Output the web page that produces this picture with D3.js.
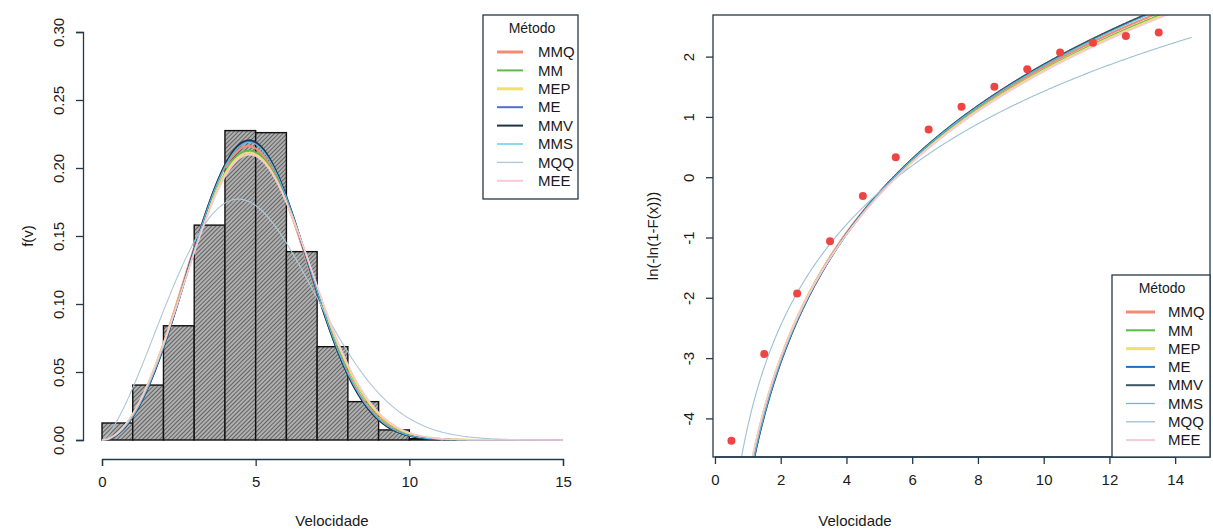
<!DOCTYPE html>
<html><head><meta charset="utf-8">
<script src="https://cdn.jsdelivr.net/npm/d3@7"></script>
<style>
html,body{margin:0;padding:0;background:#fff;}
svg{display:block;font-family:"Liberation Sans",Arial,Helvetica,sans-serif;}
</style></head>
<body>
<svg id="chart" width="1213" height="531"></svg>
<script>
// ---------- data ----------
const binStart = [0,1,2,3,4,5,6,7,8,9,10];
const binEnd   = [1,2,3,4,5,6,7,8,9,10,11];
const density  = [0.0125,0.0404,0.084,0.158,0.2275,0.226,0.1385,0.0686,0.0282,0.0074,0.001];

const methods = ["MMQ","MM","MEP","ME","MMV","MMS","MQQ","MEE"];
// fitted Weibull parameters per method (shape k, scale c)
const shapeK = [3.00, 2.98, 2.96, 3.06, 3.07, 3.05, 2.41, 2.95];
const scaleC = [5.44, 5.49, 5.50, 5.44, 5.44, 5.45, 5.54, 5.52];
const colorsLeft  = ["#f58a74","#5dbb48","#efe26a","#4f6fcf","#1d3542","#52c3ea","#adc8d6","#f7c9d3"];
const colorsRight = ["#f58a74","#5dbb48","#efe26a","#1f6fc4","#3c5560","#52c3ea","#9cc0d4","#f7c9d3"];
const widths = [3, 2, 3, 2, 2, 1.3, 1.3, 2];

const pointX = [0.5,1.5,2.5,3.5,4.5,5.5,6.5,7.5,8.5,9.5,10.5,11.5,12.5,13.5];
const pointY = [-4.37,-2.93,-1.93,-1.06,-0.31,0.33,0.79,1.17,1.50,1.79,2.07,2.23,2.34,2.40];

const leftXTicks  = [0,5,10,15];
const leftYTicks  = [0,0.05,0.10,0.15,0.20,0.25,0.30];
const rightXTicks = [0,2,4,6,8,10,12,14];
const rightYTicks = [-4,-3,-2,-1,0,1,2];

// ---------- helpers ----------
const svg = d3.select("#chart");
const axisCol = "#23394a";
const textCol = "#1a1a1a";
const weibullPdf = (x,k,c) => x<=0 ? 0 : (k/c)*Math.pow(x/c,k-1)*Math.exp(-Math.pow(x/c,k));
const weibullLin = (x,k,c) => k*(Math.log(x)-Math.log(c));

const defs = svg.append("defs");
const pat = defs.append("pattern").attr("id","hatch").attr("patternUnits","userSpaceOnUse")
  .attr("width",3).attr("height",3).attr("patternTransform","rotate(45)");
pat.append("rect").attr("width",3).attr("height",3).attr("fill","#b0b0b0");
pat.append("line").attr("x1",0).attr("y1",0).attr("x2",0).attr("y2",3)
  .attr("stroke","#383838").attr("stroke-width",1.3);

// ---------- LEFT PANEL ----------
const xL = d3.scaleLinear().domain([0,15]).range([102,563]);
const yL = d3.scaleLinear().domain([0,0.30]).range([440,32]);
const gL = svg.append("g");

gL.selectAll("rect.bar").data(density).join("rect").attr("class","bar")
  .attr("x",(d,i)=>xL(binStart[i]))
  .attr("y",d=>yL(d))
  .attr("width",(d,i)=>xL(binEnd[i])-xL(binStart[i]))
  .attr("height",d=>yL(0)-yL(d))
  .attr("fill","url(#hatch)").attr("stroke","#111").attr("stroke-width",1.4);

const xsL = d3.range(0,15.0001,0.05);
methods.forEach((m,i)=>{
  const line = d3.line().x(d=>xL(d)).y(d=>yL(weibullPdf(d,shapeK[i],scaleC[i])));
  gL.append("path").datum(xsL).attr("d",line).attr("fill","none")
    .attr("stroke",colorsLeft[i]).attr("stroke-width",widths[i]===3?2:(widths[i]<1.5?1.1:1.7));
});

// axes
const axL_x = gL.append("g").attr("transform","translate(0,459)")
  .call(d3.axisBottom(xL).tickValues(leftXTicks).tickSize(7).tickPadding(10).tickFormat(d3.format("d")));
const axL_y = gL.append("g").attr("transform","translate(83,0)")
  .call(d3.axisLeft(yL).tickValues(leftYTicks).tickSize(7).tickFormat(d3.format(".2f")));
[axL_x,axL_y].forEach(a=>{
  a.select(".domain").attr("stroke",axisCol).attr("stroke-width",1.3);
  a.selectAll(".tick line").attr("stroke",axisCol).attr("stroke-width",1.3);
  a.selectAll("text").attr("fill",textCol).attr("font-size",15).attr("font-family",null);
});
axL_x.selectAll("text").attr("dy","0.71em");
axL_y.selectAll(".tick text").attr("x",null).attr("dy","0.35em").attr("text-anchor","middle")
  .attr("transform","translate(-24,0) rotate(-90)");

gL.append("text").attr("transform","translate(28,236) rotate(-90)").attr("text-anchor","middle")
  .attr("font-size",15).attr("fill",textCol).attr("dy","0.35em").text("f(v)");
gL.append("text").attr("x",332).attr("y",521).attr("text-anchor","middle").attr("dy","0.35em")
  .attr("font-size",15).attr("fill",textCol).text("Velocidade");

// legend
function legend(g, x0, y0, w, h, titleX, titleY, lineX1, lineX2, textX, firstY, step, cols){
  g.append("rect").attr("x",x0).attr("y",y0).attr("width",w).attr("height",h)
    .attr("fill","#fff").attr("stroke",axisCol).attr("stroke-width",1.3);
  g.append("text").attr("x",titleX).attr("y",titleY).attr("text-anchor","middle").attr("dy","0.35em")
    .attr("font-size",14).attr("fill",textCol).text("Método");
  methods.forEach((m,i)=>{
    const y = firstY + i*step;
    g.append("line").attr("x1",lineX1).attr("x2",lineX2).attr("y1",y).attr("y2",y)
      .attr("stroke",cols[i]).attr("stroke-width",widths[i]);
    g.append("text").attr("x",textX).attr("y",y).attr("dy","0.35em").attr("font-size",15)
      .attr("fill",textCol).text(m);
  });
}
legend(gL, 483, 15, 95, 184, 532, 28, 497, 523, 538, 52, 18.4, colorsLeft);

// ---------- RIGHT PANEL ----------
const xR = d3.scaleLinear().domain([-0.06,15.06]).range([713,1210]);
const yR = d3.scaleLinear().domain([-4.64,2.69]).range([457,15]);
const gR = svg.append("g");
defs.append("clipPath").attr("id","clipR").append("rect")
  .attr("x",713).attr("y",15).attr("width",497).attr("height",442);

const xsR = d3.range(0.3,14.5001,0.02);
const curves = gR.append("g").attr("clip-path","url(#clipR)");
methods.forEach((m,i)=>{
  const line = d3.line().x(d=>xR(d)).y(d=>yR(weibullLin(d,shapeK[i],scaleC[i])));
  curves.append("path").datum(xsR).attr("d",line).attr("fill","none")
    .attr("stroke",colorsRight[i]).attr("stroke-width",widths[i]===3?2.2:(widths[i]<1.5?1.1:1.8));
});

gR.selectAll("circle.pt").data(pointY).join("circle").attr("class","pt")
  .attr("cx",(d,i)=>xR(pointX[i])).attr("cy",d=>yR(d)).attr("r",4)
  .attr("fill","#ef4444");

gR.append("rect").attr("x",713).attr("y",15).attr("width",497).attr("height",442)
  .attr("fill","none").attr("stroke",axisCol).attr("stroke-width",1.3);

const axR_x = gR.append("g").attr("transform","translate(0,457)")
  .call(d3.axisBottom(xR).tickValues(rightXTicks).tickSize(7).tickPadding(10).tickFormat(d3.format("d")));
const axR_y = gR.append("g").attr("transform","translate(713,0)")
  .call(d3.axisLeft(yR).tickValues(rightYTicks).tickSize(7).tickFormat(d=>d<0?"-"+Math.abs(d):String(d)));
[axR_x,axR_y].forEach(a=>{
  a.select(".domain").remove();
  a.selectAll(".tick line").attr("stroke",axisCol).attr("stroke-width",1.3);
  a.selectAll("text").attr("fill",textCol).attr("font-size",15).attr("font-family",null);
});
axR_x.append("line").attr("x1",xR(0)).attr("x2",xR(14)).attr("y1",0).attr("y2",0)
  .attr("stroke",axisCol).attr("stroke-width",1.3);
axR_x.selectAll(".tick text").attr("dy","0.71em");
axR_y.selectAll(".tick text").attr("x",null).attr("dy","0.35em").attr("text-anchor","middle")
  .attr("transform","translate(-24,0) rotate(-90)");

gR.append("text").attr("transform","translate(653,236) rotate(-90)").attr("text-anchor","middle")
  .attr("font-size",15).attr("fill",textCol).attr("dy","0.35em").text("ln(-ln(1-F(x)))");
gR.append("text").attr("x",855).attr("y",521).attr("text-anchor","middle").attr("dy","0.35em")
  .attr("font-size",15).attr("fill",textCol).text("Velocidade");

legend(gR, 1112, 275, 98, 182, 1162, 288, 1126, 1155, 1168, 312, 18.3, colorsRight);
</script>
</body></html>
